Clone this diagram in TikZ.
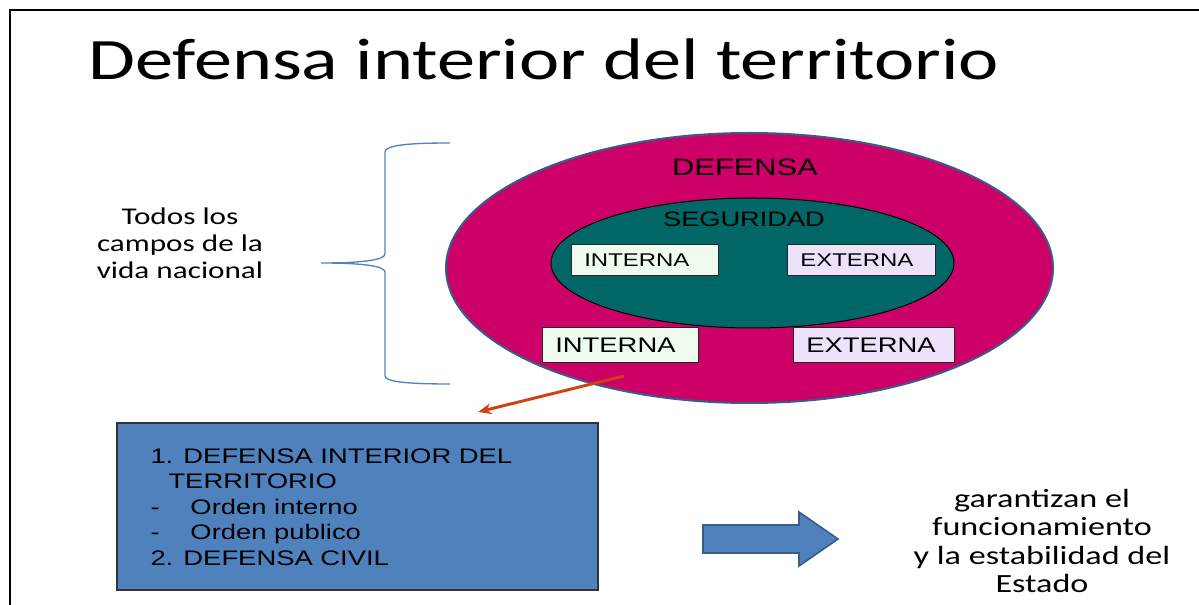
\documentclass[tikz,border=0pt]{standalone}
\usepackage{fontspec}
\setmainfont[FakeStretch=1.3]{Liberation Sans}
\newfontfamily\calibri[FakeStretch=1.3]{Carlito}
\usetikzlibrary{arrows.meta}

\definecolor{defensaRojo}{RGB}{204,0,102}
\definecolor{bordeAzul}{RGB}{56,93,138}
\definecolor{seguridadVerde}{RGB}{0,102,102}
\definecolor{internaFondo}{RGB}{238,251,238}
\definecolor{externaFondo}{RGB}{238,226,250}
\definecolor{bloqueAzul}{RGB}{79,129,189}
\definecolor{flechaRoja}{RGB}{208,64,16}
\definecolor{llaveAzul}{RGB}{84,130,190}

\tikzset{every picture/.style={line width=0.75pt}}
\tikzset{
  caja/.style={draw=black!85, line width=0.75pt, inner xsep=10pt, inner ysep=0pt, align=left},
  interna/.style={caja, fill=internaFondo},
  externa/.style={caja, fill=externaFondo},
  cajachica/.style={font=\fontsize{13.8}{16}\selectfont, minimum height=23.25pt},
  cajagrande/.style={font=\fontsize{15.8}{18}\selectfont, minimum height=26.25pt},
  textocal/.style={font=\calibri\fontsize{18}{20.25}\selectfont, align=center, inner sep=0pt},
  flecharoja/.style={draw=flechaRoja, line width=2.2pt, -{Stealth[length=10pt,width=8pt]}}
}

\begin{document}
\begin{tikzpicture}[x=0.75pt,y=0.75pt,yscale=-1,xscale=1]
\useasboundingbox (0,0) rectangle (1199,605);
%Straight Lines
\draw [line width=1.5pt]   (1199,10) -- (10,10) -- (10,605) ;

% Text Node
\node [anchor=base west, inner sep=0pt, font=\calibri\fontsize{44}{52}\selectfont] (titulo) at (88,80) {Defensa interior del territorio};

% Text Node
\node [textocal] (campos) at (180,243) {Todos los\\campos de la\\vida nacional};

%Shape: Brace
\draw [color=llaveAzul, line width=1pt]  (450,143) .. controls (410,143) and (385,145) .. (385,152) -- (385,254) .. controls (385,260) and (362,263) .. (321,263) .. controls (362,263) and (385,266) .. (385,272) -- (385,376) .. controls (385,382) and (410,384) .. (450,384) ;

%Shape: Ellipse
\draw [draw=bordeAzul, fill=defensaRojo, line width=1.5pt]  (749.5,268) ellipse [x radius=303.5, y radius=135] ;
%Shape: Ellipse
\draw [draw=black, fill=seguridadVerde, line width=0.75pt]  (752.5,263) ellipse [x radius=201.5, y radius=65] ;

% Text Node
\node [anchor=base, inner sep=0pt, font=\fontsize{17.8}{20}\selectfont] (defensa) at (745,176) {DEFENSA};
% Text Node
\node [anchor=base, inner sep=0pt, font=\fontsize{15.7}{18}\selectfont] (seguridad) at (744,227) {SEGURIDAD};

% Boxes
\node [interna, cajachica, text width=90.25pt] (internaSeg) at (644.5,260.5) {INTERNA};
\node [externa, cajachica, text width=91pt] (externaSeg) at (861,260.5) {EXTERNA};
\node [interna, cajagrande, text width=97pt] (internaDef) at (620,345.5) {INTERNA};
\node [externa, cajagrande, text width=100.75pt] (externaDef) at (873.5,345.5) {EXTERNA};

%Straight Lines
\coordinate (origenFlecha) at (624,376);
\coordinate (puntaFlecha) at (478,412);
\draw [flecharoja]  (origenFlecha) -- (puntaFlecha) ;

%Shape: Rectangle
\node [draw=black!80, fill=bloqueAzul, line width=1pt, minimum width=360.75pt, minimum height=125.25pt] (bloque) at (357.5,506.5) {};
% Text Node
\node [anchor=west, inner sep=0pt, align=left, font=\fontsize{15.8}{19.1}\selectfont] (lista) at (150,507) {1. DEFENSA INTERIOR DEL\\\hspace*{13.5pt}TERRITORIO\\\makebox[30pt][l]{-}Orden interno\\\makebox[30pt][l]{-}Orden publico\\2. DEFENSA CIVIL};

%Shape: Right Arrow
\draw [draw=bordeAzul, fill=bloqueAzul, line width=1.2pt]  (703,525) -- (799,525) -- (799,512) -- (838,539) -- (799,566) -- (799,553) -- (703,553) -- cycle ;

% Text Node
\node [textocal, font=\calibri\fontsize{19.7}{21.2}\selectfont] (garantia) at (1042,541) {garantizan el\\funcionamiento\\y la estabilidad del\\Estado};
\end{tikzpicture}
\end{document}
